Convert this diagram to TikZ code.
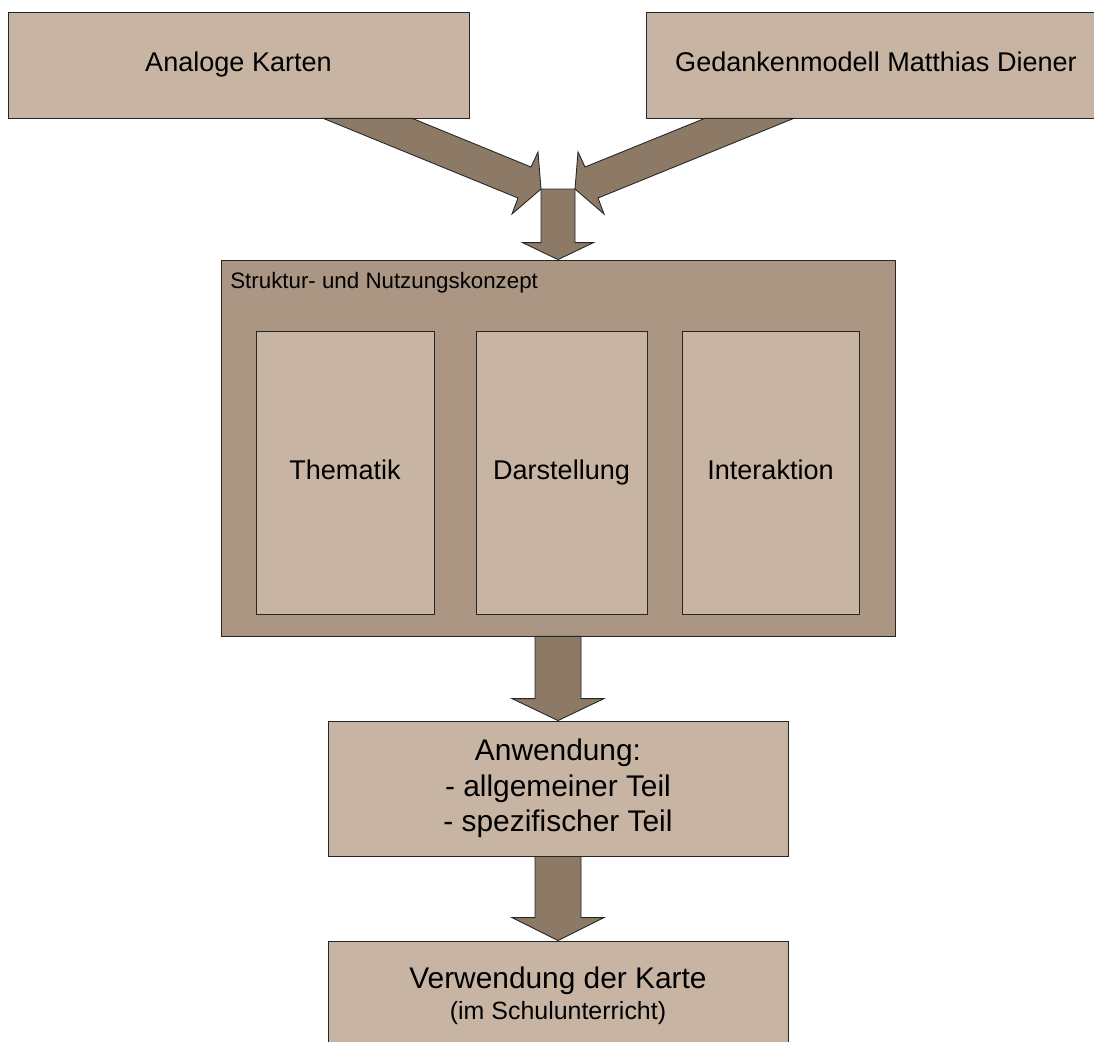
\documentclass[tikz,border=0pt]{standalone}
\usepackage{fontspec}
\setmainfont{Liberation Sans}
\usetikzlibrary{calc}
\definecolor{boxtan}{RGB}{200,180,162}
\definecolor{frametan}{RGB}{170,150,131}
\definecolor{arrowbrown}{RGB}{140,122,103}
\newcommand{\fnbig}{\fontsize{15.4}{18}\selectfont}
\newcommand{\fnmid}{\fontsize{17}{20.2}\selectfont}
\newcommand{\fnsmall}{\fontsize{12.7}{15}\selectfont}
\newcommand{\fnnote}{\fontsize{14.2}{17.6}\selectfont}
\tikzset{
  box/.style={draw=black!85, line width=0.5pt, fill=boxtan, inner sep=0pt, align=center},
  oneline/.style={box, font=\fnbig, text height=0.9em, text depth=0.16em},
  blockarrow/.style={draw=black!85, line width=0.5pt, fill=arrowbrown, line join=miter},
}
% broad down arrow: from, to, half shaft, half head, head length
\newcommand{\blockdown}[5]{%
  \draw[blockarrow] ($(#1)+(-#3,0)$) -- ($(#2)+(-#3,-#5)$) -- ($(#2)+(-#4,-#5)$)
    -- (#2) -- ($(#2)+(#4,-#5)$) -- ($(#2)+(#3,-#5)$) -- ($(#1)+(#3,0)$) -- cycle;}
\begin{document}
\begin{tikzpicture}[x=0.02cm,y=-0.02cm]
\useasboundingbox (0,0) rectangle (1094,1041);
\clip (0,0) rectangle (1094,1041);
\node[oneline, minimum width=9.22cm, minimum height=2.12cm] (analog) at (238.5,65) {Analoge Karten};
\node[oneline, minimum width=9.2cm, minimum height=2.12cm] (modell) at (876,65) {Gedankenmodell Matthias Diener};
\node[box, fill=frametan, minimum width=13.48cm, minimum height=7.52cm] (konzept) at (558,448) {};
\node[anchor=base west, inner sep=0pt, font=\fnsmall] (konzlbl) at (230,288) {Struktur- und Nutzungskonzept};
\node[oneline, minimum width=3.56cm, minimum height=5.66cm] (thema) at (345,472.5) {Thematik};
\node[oneline, minimum width=3.42cm, minimum height=5.66cm] (darst) at (561.5,472.5) {Darstellung};
\node[oneline, minimum width=3.54cm, minimum height=5.66cm] (inter) at (770.5,472.5) {Interaktion};
\node[box, minimum width=9.2cm, minimum height=2.7cm, font=\fnmid] (anw) at (558,788.5) {Anwendung:\\- allgemeiner Teil\\- spezifischer Teil};
\node[box, minimum width=9.2cm, minimum height=2.18cm, font=\fnnote] (verw) at (558,995.5) {{\fnmid Verwendung der Karte}\\(im Schulunterricht)};
\coordinate (jn) at (558,189);
% diagonal arrows into the junction
\draw[blockarrow] ($(analog.south east)+(-146,0)$) -- ($(analog.south east)+(-57,0)$) -- ($(jn)+(-27,-22)$)
  -- ($(jn)+(-20,-37)$) -- ($(jn)+(-17,0)$) -- ($(jn)+(-46,25)$) -- ($(jn)+(-40,9)$) -- cycle;
\draw[blockarrow] ($(modell.south west)+(148,0)$) -- ($(modell.south west)+(59,0)$) -- ($(jn)+(27,-22)$)
  -- ($(jn)+(20,-37)$) -- ($(jn)+(17,0)$) -- ($(jn)+(46,25)$) -- ($(jn)+(40,9)$) -- cycle;
\blockdown{jn}{konzept.north}{17}{35.5}{17}
\blockdown{konzept.south}{anw.north}{23}{46}{22}
\blockdown{anw.south}{verw.north}{23}{46}{23}
\end{tikzpicture}
\end{document}
